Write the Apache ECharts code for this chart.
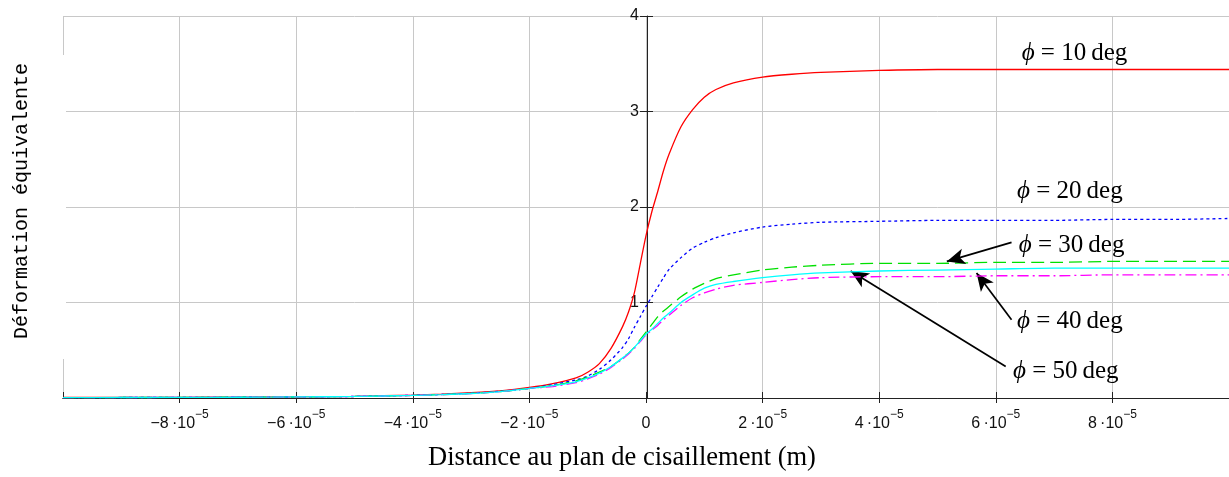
<!DOCTYPE html>
<html>
<head>
<meta charset="utf-8">
<script src="https://cdn.jsdelivr.net/npm/echarts@6/dist/echarts.min.js"></script>
<style>
  html, body { margin: 0; padding: 0; background: #fff; }
  #chart { width: 1229px; height: 477px; }
</style>
</head>
<body>
<div id="chart"></div>
<script>
// Distance to the shear plane, in units of 1e-5 m
const distance_e5 = [-10, -9, -8, -7, -6, -5, -4, -3.5, -3, -2.5, -2, -1.6, -1.2, -1, -0.8, -0.6, -0.4, -0.3, -0.2, -0.1,
  0, 0.1, 0.2, 0.3, 0.4, 0.6, 0.8, 1, 1.2, 1.5, 2, 2.5, 3, 4, 5, 6, 7, 8, 9, 10];

// Equivalent strain for each friction angle
const phi10 = [0.005, 0.006, 0.007, 0.009, 0.012, 0.018, 0.03, 0.04, 0.055, 0.075, 0.11, 0.15, 0.21, 0.27, 0.36, 0.52, 0.75, 0.9, 1.1, 1.4,
  1.7, 1.95, 2.16, 2.38, 2.56, 2.84, 3.02, 3.15, 3.23, 3.3, 3.36, 3.39, 3.41, 3.43, 3.44, 3.44, 3.44, 3.44, 3.44, 3.44];
const phi20 = [0.004, 0.005, 0.006, 0.008, 0.011, 0.016, 0.028, 0.037, 0.05, 0.07, 0.1, 0.14, 0.19, 0.23, 0.3, 0.4, 0.53, 0.62, 0.74, 0.85,
  0.96, 1.06, 1.16, 1.26, 1.35, 1.47, 1.57, 1.63, 1.68, 1.73, 1.79, 1.82, 1.84, 1.85, 1.86, 1.86, 1.86, 1.87, 1.87, 1.88];
const phi30 = [0.004, 0.005, 0.006, 0.008, 0.011, 0.016, 0.027, 0.036, 0.048, 0.068, 0.1, 0.13, 0.18, 0.22, 0.27, 0.33, 0.42, 0.47, 0.53, 0.61,
  0.69, 0.77, 0.85, 0.91, 0.96, 1.06, 1.14, 1.2, 1.25, 1.29, 1.34, 1.37, 1.39, 1.41, 1.41, 1.42, 1.42, 1.43, 1.43, 1.43];
const phi40 = [0.004, 0.005, 0.006, 0.008, 0.011, 0.016, 0.027, 0.035, 0.047, 0.066, 0.1, 0.12, 0.16, 0.2, 0.25, 0.32, 0.41, 0.46, 0.52, 0.59,
  0.66, 0.71, 0.76, 0.82, 0.87, 0.97, 1.05, 1.1, 1.14, 1.18, 1.21, 1.24, 1.26, 1.27, 1.27, 1.28, 1.28, 1.29, 1.29, 1.29];
const phi50 = [0.004, 0.005, 0.006, 0.008, 0.011, 0.016, 0.027, 0.035, 0.047, 0.067, 0.1, 0.13, 0.17, 0.21, 0.26, 0.33, 0.42, 0.47, 0.53, 0.6,
  0.67, 0.72, 0.78, 0.84, 0.89, 1.0, 1.08, 1.15, 1.19, 1.22, 1.26, 1.29, 1.31, 1.33, 1.34, 1.35, 1.36, 1.36, 1.36, 1.36];

const angleNames = ['10', '20', '30', '40', '50'];

// Curve labels (data coordinates) and leader arrows [from, to]
const labelAt = [[7.35, 3.61], [7.27, 2.16], [7.30, 1.60], [7.27, 0.80], [7.20, 0.28]];
const arrows = [null, null, [[6.27, 1.63], [5.16, 1.43]], [[6.27, 0.82], [5.67, 1.31]], [[6.17, 0.33], [3.51, 1.33]]];

const lineColors = ['#ff0000', '#0000ff', '#00e000', '#ff00ff', '#00ffff'];
const lineTypes = ['solid', [3, 3], [13, 6], [11, 4, 2, 4], 'solid'];
const seriesValues = [phi10, phi20, phi30, phi40, phi50];

const AXIS_COLOR = '#222';
const GRID_COLOR = '#c8c8c8';

const X_MIN = -10, X_MAX = 10;
const CHART_W = 1229;
const GRID = { left: 63, right: -2, top: 16, bottom: 78 };
// the vertical axis sits on x = 0, inside the plot area
const yAxisOffset = -(CHART_W - GRID.left - GRID.right) * (0 - X_MIN) / (X_MAX - X_MIN);

function xLabel(v) {
  const n = Math.round(v);
  if (n === 0) return '{m|0}';
  return '{m|' + (n < 0 ? '\u2212' : '') + Math.abs(n) + '\u2009\u00b710}{e|\u22125}';
}

const series = seriesValues.map((vals, k) => {
  const s = {
    type: 'line',
    name: '\u03d5 = ' + angleNames[k] + ' deg',
    data: distance_e5.map((x, i) => [x, vals[i]]),
    showSymbol: false,
    smooth: 0.25,
    lineStyle: { color: lineColors[k], width: 1.3, type: lineTypes[k] },
    z: 2 + k,
    markPoint: {
      symbol: 'circle',
      symbolSize: 0,
      silent: true,
      data: [{ coord: labelAt[k] }],
      label: {
        show: true,
        position: 'inside',
        formatter: '{p|\u03d5}{t| = ' + angleNames[k] + '\u2009deg}',
        rich: {
          p: { fontFamily: 'Liberation Serif', fontStyle: 'italic', fontSize: 25, color: '#000' },
          t: { fontFamily: 'Liberation Serif', fontSize: 25, color: '#000' }
        }
      }
    }
  };
  if (arrows[k]) {
    s.markLine = {
      silent: true,
      symbol: ['none', 'arrow'],
      symbolSize: [12, 18],
      label: { show: false },
      lineStyle: { color: '#000', width: 1.7, type: 'solid' },
      data: [[{ coord: arrows[k][0] }, { coord: arrows[k][1] }]]
    };
  }
  return s;
});

const chart = echarts.init(document.getElementById('chart'), null, { renderer: 'canvas' });
chart.setOption({
  animation: false,
  backgroundColor: '#fff',
  grid: GRID,
  xAxis: [
    {
      type: 'value', min: X_MIN, max: X_MAX, interval: 2,
      axisLine: { show: true, lineStyle: { color: AXIS_COLOR, width: 1 } },
      axisTick: { show: true, length: 5, lineStyle: { color: AXIS_COLOR } },
      splitLine: { show: true, showMinLine: true, showMaxLine: true, lineStyle: { color: GRID_COLOR, width: 1 } },
      axisLabel: {
        show: true, margin: 11, showMinLabel: false, showMaxLabel: false,
        formatter: xLabel,
        rich: {
          m: { fontFamily: 'Liberation Sans', fontSize: 16, color: '#111', lineHeight: 23, verticalAlign: 'bottom' },
          e: { fontFamily: 'Liberation Sans', fontSize: 12, color: '#111', lineHeight: 12, verticalAlign: 'top' }
        }
      },
      name: 'Distance au plan de cisaillement (m)',
      nameLocation: 'middle',
      nameGap: 47,
      nameTextStyle: { fontFamily: 'Liberation Serif', fontSize: 26.5, color: '#000', padding: [0, 48, 0, 0] }
    },
    {
      type: 'value', min: X_MIN, max: X_MAX, interval: 2, position: 'bottom',
      axisLine: { show: true, lineStyle: { color: AXIS_COLOR, width: 1 } },
      axisTick: { show: true, inside: true, length: 6, lineStyle: { color: AXIS_COLOR } },
      splitLine: { show: false },
      axisLabel: { show: false }
    }
  ],
  yAxis: [
    {
      type: 'value', min: 0, max: 4, interval: 1, position: 'left', offset: yAxisOffset,
      axisLine: { show: true, onZero: false, lineStyle: { color: AXIS_COLOR, width: 1 } },
      axisTick: { show: true, length: 7, lineStyle: { color: AXIS_COLOR } },
      splitLine: { show: true, lineStyle: { color: GRID_COLOR, width: 1 } },
      axisLabel: { show: true, margin: 8, showMinLabel: false, fontFamily: 'Liberation Sans', fontSize: 16, color: '#111' }
    },
    {
      type: 'value', min: 0, max: 4, interval: 1, position: 'left', offset: yAxisOffset,
      axisLine: { show: false, onZero: false },
      axisTick: { show: true, inside: true, length: 6, lineStyle: { color: AXIS_COLOR } },
      splitLine: { show: false },
      axisLabel: { show: false }
    },
    {
      type: 'value', min: 0, max: 4, position: 'left', z: 5,
      axisLine: { show: false, onZero: false },
      axisTick: { show: false },
      splitLine: { show: false },
      axisLabel: { show: false },
      name: 'D\u00e9formation \u00e9quivalente',
      nameLocation: 'middle',
      nameRotate: 90,
      nameGap: -3,
      nameTextStyle: {
        fontFamily: 'Liberation Mono', fontSize: 20, color: '#000',
        backgroundColor: '#fff', padding: [0, 8, 34, 20]
      }
    }
  ],
  series: series
});
</script>
</body>
</html>
